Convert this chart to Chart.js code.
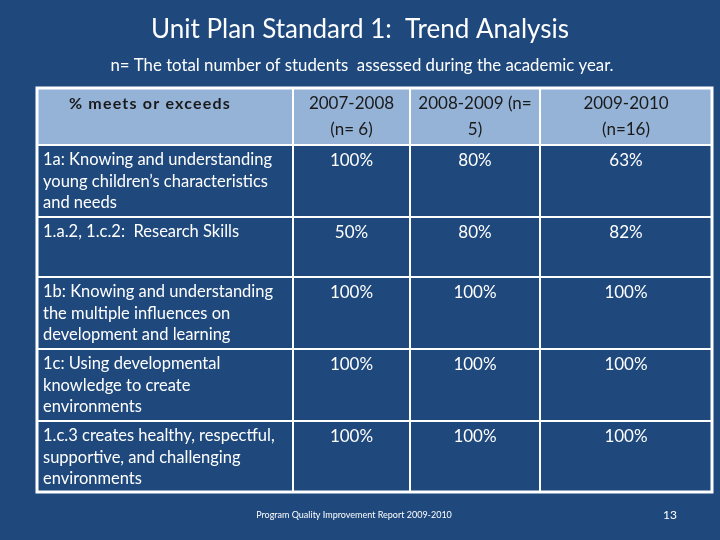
<!DOCTYPE html>
<html>
<head>
<meta charset="utf-8">
<script src="https://cdn.jsdelivr.net/npm/chart.js@4"></script>
<style>
  html, body { margin: 0; padding: 0; background: #1F497D; }
  #wrap { width: 720px; height: 540px; }
</style>
</head>
<body>
<div id="wrap"><canvas id="chart"></canvas></div>
<script>
// Table content
const title = 'Unit Plan Standard 1:  Trend Analysis';
const subtitle = 'n= The total number of students  assessed during the academic year.';
const footer = 'Program Quality Improvement Report 2009-2010';
const pageNo = '13';
const headers = [['% meets or exceeds'], ['2007-2008', '(n= 6)'], ['2008-2009 (n=', '5)'], ['2009-2010', '(n=16)']];
const standards = [
  ['1a: Knowing and understanding', 'young children\u2019s characteristics', 'and needs'],
  ['1.a.2, 1.c.2:  Research Skills'],
  ['1b: Knowing and understanding', 'the multiple influences on', 'development and learning'],
  ['1c: Using developmental', 'knowledge to create', 'environments'],
  ['1.c.3 creates healthy, respectful,', 'supportive, and challenging', 'environments']
];
const y2007 = [100, 50, 100, 100, 100];
const y2008 = [80, 80, 100, 100, 100];
const y2009 = [63, 82, 100, 100, 100];

// Grid in scale units
const colEdges = [0, 256, 373, 503, 675];
const rowEdges = [0, 57, 129, 189, 261, 333, 404];

const FONT = 'Lato, "Open Sans", sans-serif';

const tablePlugin = {
  id: 'table',
  beforeDraw(chart) {
    const c = chart.ctx, x = chart.scales.x, y = chart.scales.y;
    const X = v => x.getPixelForValue(v), Y = v => y.getPixelForValue(v);
    c.save();
    c.fillStyle = '#1F497D';
    c.fillRect(0, 0, chart.width, chart.height);
    // header band
    c.fillStyle = '#95B3D7';
    c.fillRect(X(0), Y(0), X(675) - X(0), Y(rowEdges[1]) - Y(0));
    // grid lines
    c.strokeStyle = '#FFFFFF';
    c.lineWidth = 2;
    rowEdges.forEach(r => { c.beginPath(); c.moveTo(X(0), Y(r)); c.lineTo(X(675), Y(r)); c.stroke(); });
    colEdges.forEach(e => { c.beginPath(); c.moveTo(X(e), Y(0)); c.lineTo(X(e), Y(404)); c.stroke(); });
    c.lineWidth = 3;
    c.strokeRect(X(0), Y(0), X(675) - X(0), Y(404) - Y(0));

    c.textBaseline = 'middle';
    // headers
    c.fillStyle = '#1A1A1A';
    headers.forEach((lines, i) => {
      const cx = (X(colEdges[i]) + X(colEdges[i + 1])) / 2;
      c.font = (i === 0 ? 'bold 16px ' : '17px ') + FONT;
      c.letterSpacing = i === 0 ? '1.2px' : '0px';
      c.textAlign = 'center';
      lines.forEach((t, k) => c.fillText(t, cx + (i === 0 ? -15 : 0), Y(0) + 16 + k * 26));
    });
    c.letterSpacing = '0px';
    // body
    c.fillStyle = '#FFFFFF';
    const vals = [y2007, y2008, y2009];
    standards.forEach((lines, r) => {
      const top = Y(rowEdges[r + 1]);
      c.font = '16.5px ' + FONT;
      c.textAlign = 'left';
      lines.forEach((t, k) => c.fillText(t, X(0) + 6, top + 15 + k * 21.5));
      c.font = '17px ' + FONT;
      c.textAlign = 'center';
      vals.forEach((arr, j) => {
        const cx = (X(colEdges[j + 1]) + X(colEdges[j + 2])) / 2;
        c.fillText(arr[r] + '%', cx, top + 16);
      });
    });
    // title, subtitle, footer
    c.textAlign = 'center';
    c.font = '26px ' + FONT;
    c.fillText(title, 360, 30);
    c.font = '16.8px ' + FONT;
    c.fillText(subtitle, 362, 66);
    c.font = '9px ' + FONT;
    c.fillText(footer, 354, 515);
    c.font = '12px ' + FONT;
    c.fillText(pageNo, 670, 515);
    c.restore();
  }
};

new Chart(document.getElementById('chart'), {
  type: 'scatter',
  data: { datasets: [{ data: [], pointRadius: 0 }] },
  options: {
    responsive: true,
    maintainAspectRatio: false,
    animation: false,
    layout: { padding: { left: 37, top: 88, right: 8, bottom: 48 } },
    plugins: { legend: { display: false }, tooltip: { enabled: false } },
    scales: {
      x: { type: 'linear', min: 0, max: 675, display: false },
      y: { type: 'linear', min: 0, max: 404, reverse: true, display: false }
    }
  },
  plugins: [tablePlugin]
});
</script>
</body>
</html>
